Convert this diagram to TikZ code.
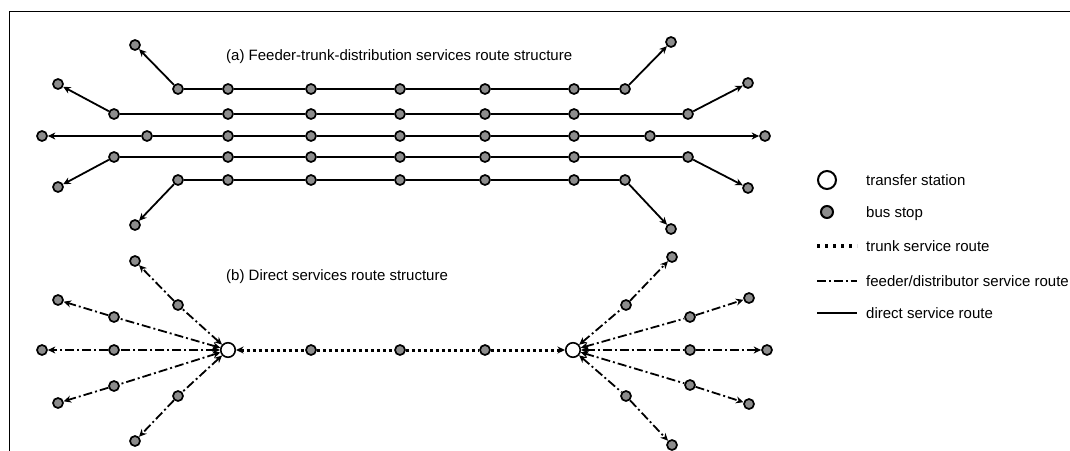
\documentclass[tikz,border=0pt]{standalone}
\usepackage{fontspec}
\setmainfont{Liberation Sans}
\usetikzlibrary{arrows.meta}
\begin{document}
\begin{tikzpicture}[x=1pt,y=-1pt,
  stop/.style={circle,draw=black,fill=black!45,line width=1.7pt,inner sep=0pt,minimum size=10pt},
  hub/.style={circle,draw=black,fill=white,line width=1.6pt,inner sep=0pt,minimum size=14.5pt},
  arr/.tip={Stealth[length=7.5pt,width=7pt,inset=2.4pt]},
  direct/.style={line width=1.8pt},
  feeder/.style={line width=1.8pt,dash pattern=on 9pt off 3pt on 2pt off 3pt},
  trunk/.style={line width=3pt,dash pattern=on 3pt off 3pt},
  lbl/.style={font=\fontsize{15}{15}\selectfont,inner sep=0pt,anchor=base west}]

\useasboundingbox (0,0) rectangle (1070,450);

% outer frame (open on the right and at the bottom)
\draw[line width=1.9pt] (9.5,452) -- (9.5,11.5) -- (1072,11.5);

% (a) feeder-trunk-distribution structure: five parallel direct routes
\node[lbl] (titleA) at (226,60) {(a) Feeder-trunk-distribution services route structure};
\foreach \r/\y/\lx/\ly/\fx/\gx/\rx/\ry in {
  1/89/135/45/178/625/671/42,
  2/114/58/84/114/688/748/83,
  3/136/42/136/147/650/765/136,
  4/157/58/187/114/688/748/188,
  5/180/135/225/178/625/671/229}{
  \node[stop] (r\r L) at (\lx,\ly) {};
  \node[stop] (r\r a) at (\fx,\y) {};
  \foreach \c/\x in {b/228,c/311,d/400,e/485,f/574}
    \node[stop] (r\r\c) at (\x,\y) {};
  \node[stop] (r\r g) at (\gx,\y) {};
  \node[stop] (r\r R) at (\rx,\ry) {};
  \draw[direct,arr-] (r\r L) -- (r\r a);
  \draw[direct] (r\r a) -- (r\r b) -- (r\r c) -- (r\r d)
    -- (r\r e) -- (r\r f) -- (r\r g);
  \draw[direct,-arr] (r\r g) -- (r\r R);
}

% (b) direct structure: trunk between two transfer stations with feeders
\node[lbl] (titleB) at (226,280) {(b) Direct services route structure};
\node[hub] (hL) at (228,350) {};
\node[hub] (hR) at (573,350) {};
\foreach \x [count=\i] in {311,400,485}
  \node[stop] (t\i) at (\x,350) {};
\draw[trunk,arr-] (hL) -- (t1);
\draw[trunk] (t1) -- (t2) -- (t3);
\draw[trunk,-arr] (t3) -- (hR);

\foreach \i/\sx/\sy/\ex/\ey in {1/178/305/135/261, 2/114/317/58/300,
    3/114/350/42/350, 4/114/386/58/403, 5/178/396/135/441}{
  \node[stop] (fl\i) at (\sx,\sy) {};
  \node[stop] (el\i) at (\ex,\ey) {};
  \draw[feeder,arr-] (hL) -- (fl\i);
  \draw[feeder,-arr] (fl\i) -- (el\i);
}
\foreach \i/\sx/\sy/\ex/\ey in {1/626/305/672/257, 2/690/317/749/298,
    3/690/350/767/350, 4/690/385/749/404, 5/626/396/672/445}{
  \node[stop] (fr\i) at (\sx,\sy) {};
  \node[stop] (er\i) at (\ex,\ey) {};
  \draw[feeder,arr-] (hR) -- (fr\i);
  \draw[feeder,-arr] (fr\i) -- (er\i);
}

% legend
\node[hub,minimum size=18pt,line width=2pt] (k1) at (827,180) {};
\node[stop,minimum size=12pt,line width=2pt] (k2) at (827,212) {};
\coordinate (k3a) at (817,246); \coordinate (k3b) at (857,246);
\coordinate (k4a) at (817,281); \coordinate (k4b) at (857,281);
\coordinate (k5a) at (817,313); \coordinate (k5b) at (857,313);
\draw[line width=3.4pt,dash pattern=on 3.4pt off 4.6pt] (k3a) -- (k3b);
\draw[line width=1.4pt,dash pattern=on 9pt off 3pt on 1.8pt off 3pt] (k4a) -- (k4b);
\draw[line width=1.8pt] (k5a) -- (k5b);
\node[lbl] (k1t) at (866,185) {transfer station};
\node[lbl] (k2t) at (866,217) {bus stop};
\node[lbl] (k3t) at (866,251) {trunk service route};
\node[lbl] (k4t) at (866,286) {feeder/distributor service route};
\node[lbl] (k5t) at (866,318) {direct service route};
\end{tikzpicture}
\end{document}
